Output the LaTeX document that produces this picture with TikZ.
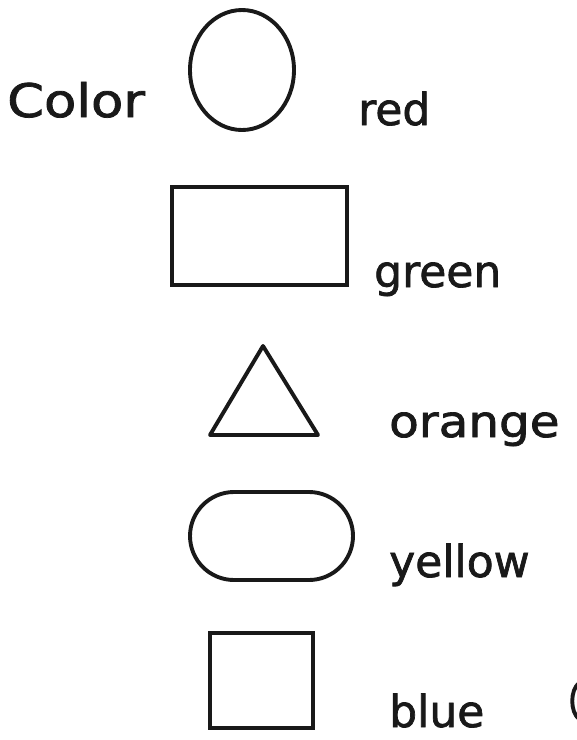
\documentclass[tikz,border=0pt]{standalone}
\usepackage{fontspec}
\newfontfamily\hand{DejaVu Sans}[FakeBold=1.6]
\begin{document}
\begin{tikzpicture}[x=1pt,y=-1pt,
  outl/.style={draw=black!90, line width=3.9pt},
  lbl/.style={anchor=base west, inner sep=0pt, font=\hand\fontsize{44}{52}\selectfont, text=black!90}]
\useasboundingbox[fill=white] (0,0) rectangle (577,740);
% labels
\node[lbl] (color) at (7,117) {\scalebox{1.2}[1.05]{Color}};
\node[lbl] (red) at (358,125) {red};
\node[lbl] (green) at (374,287) {green};
\node[lbl] (orange) at (389,437) {\scalebox{1.1}[1]{orange}};
\node[lbl] (yellow) at (389,577) {yellow};
\node[lbl] (blue) at (389,727) {blue};
% shapes
\draw[outl] (242,70) ellipse [x radius=52, y radius=60];
\node[outl, minimum width=175pt, minimum height=98pt, inner sep=0pt] (rect) at (259.5,236) {};
\draw[outl, line join=round] (263,346) -- (318,435) -- (210,435) -- cycle;
\node[outl, rounded corners=44pt, minimum width=163pt, minimum height=88pt, inner sep=0pt] (stadium) at (271.5,536) {};
\node[outl, minimum width=103pt, minimum height=95pt, inner sep=0pt] (square) at (261.5,680.5) {};
% stray fragment at right edge
\draw[outl, line cap=round] (579,683) .. controls (570,690) and (570,712) .. (579,719);
\end{tikzpicture}
\end{document}
